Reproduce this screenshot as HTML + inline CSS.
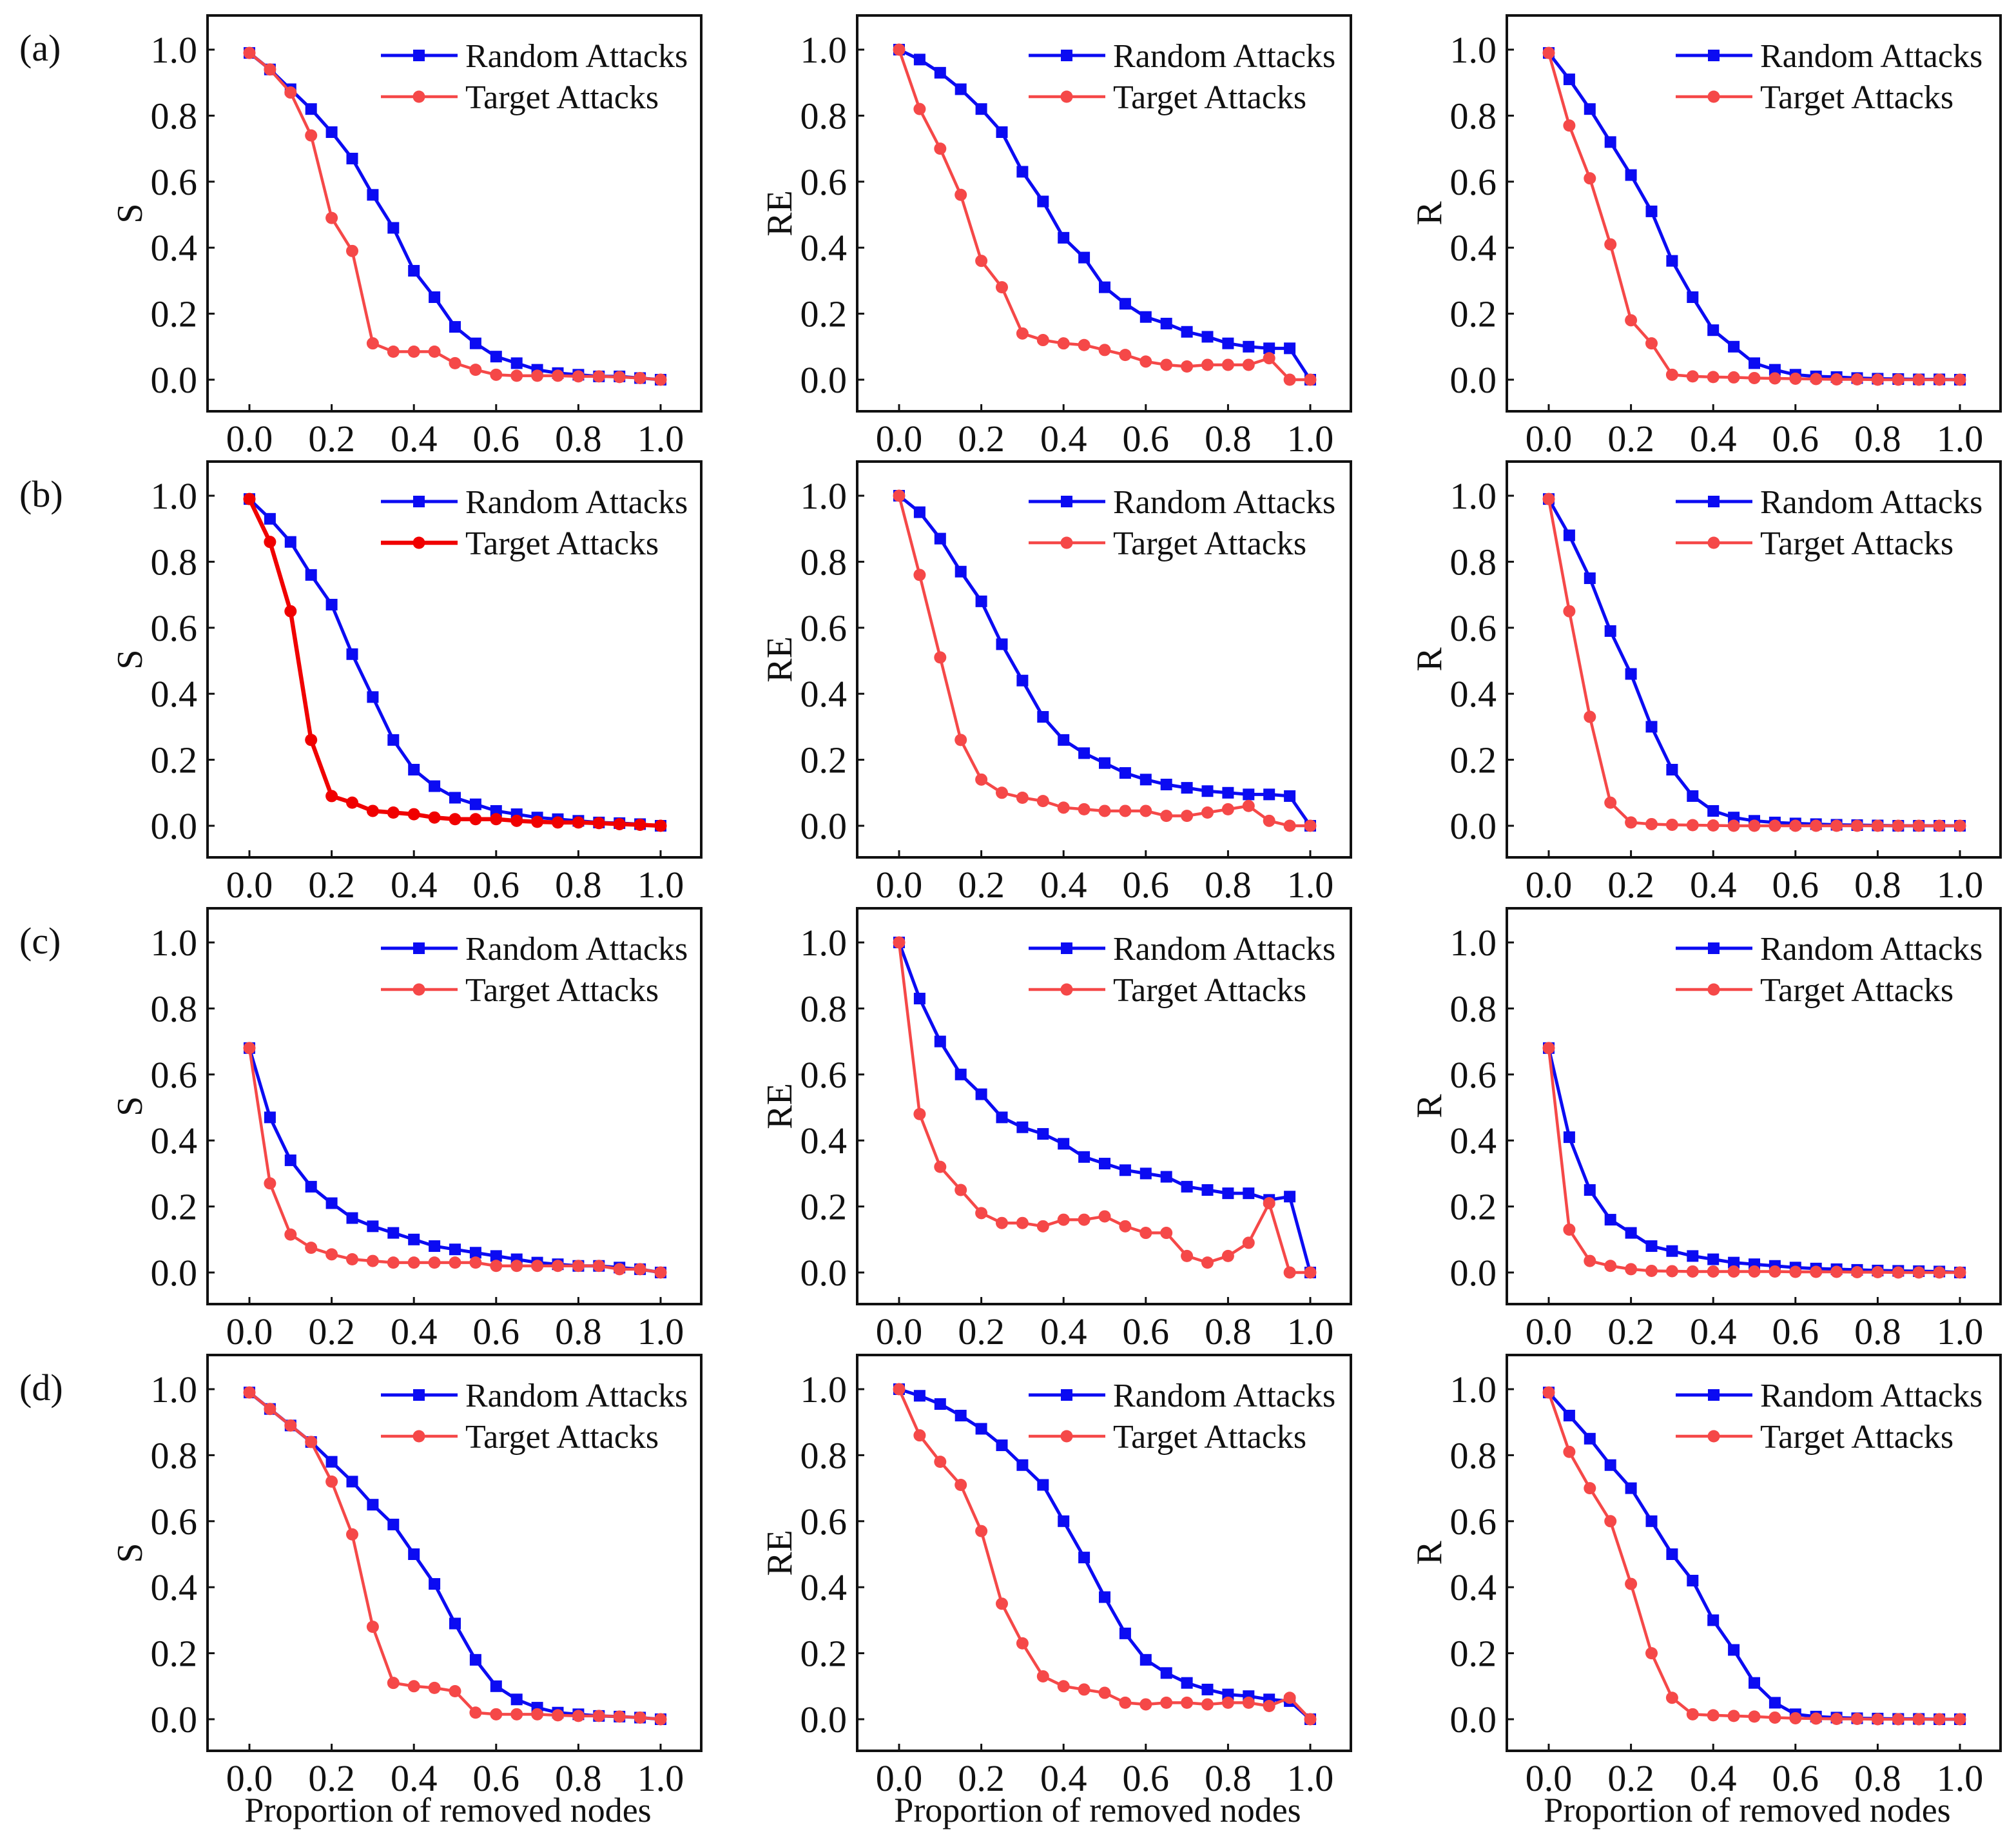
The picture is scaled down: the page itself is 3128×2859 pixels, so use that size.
<!DOCTYPE html>
<html><head><meta charset="utf-8"><style>
html,body{margin:0;padding:0;background:#fff;}
svg{display:block;}
text{font-family:"Liberation Serif","DejaVu Serif",serif;fill:#111;}
</style></head><body>
<svg id="fig" width="3128" height="2859" viewBox="0 0 3128 2859" xmlns="http://www.w3.org/2000/svg"></svg>
<script>
const xValues=[0,0.05,0.1,0.15,0.2,0.25,0.3,0.35,0.4,0.45,0.5,0.55,0.6,0.65,0.7,0.75,0.8,0.85,0.9,0.95,1.0];
const xTicks=[0,0.2,0.4,0.6,0.8,1.0];
const yTicks=[0,0.2,0.4,0.6,0.8,1.0];
const rowLabels=["(a)","(b)","(c)","(d)"];
const colYLabels=["S","RE","R"];
const legendLabels=["Random Attacks","Target Attacks"];
const randomA1=[0.99,0.94,0.88,0.82,0.75,0.67,0.56,0.46,0.33,0.25,0.16,0.11,0.07,0.05,0.03,0.02,0.015,0.01,0.01,0.005,0];
const targetA1=[0.99,0.94,0.87,0.74,0.49,0.39,0.11,0.085,0.085,0.085,0.05,0.03,0.015,0.012,0.012,0.012,0.01,0.01,0.008,0.005,0];
const randomA2=[1.0,0.97,0.93,0.88,0.82,0.75,0.63,0.54,0.43,0.37,0.28,0.23,0.19,0.17,0.145,0.13,0.11,0.10,0.095,0.095,0];
const targetA2=[1.0,0.82,0.70,0.56,0.36,0.28,0.14,0.12,0.11,0.105,0.09,0.075,0.055,0.045,0.04,0.045,0.045,0.045,0.065,0.0,0.0];
const randomA3=[0.99,0.91,0.82,0.72,0.62,0.51,0.36,0.25,0.15,0.10,0.05,0.03,0.015,0.01,0.008,0.005,0.003,0.002,0.001,0.001,0];
const targetA3=[0.99,0.77,0.61,0.41,0.18,0.11,0.015,0.01,0.008,0.007,0.005,0.004,0.003,0.002,0.001,0.001,0,0,0,0,0];
const randomB1=[0.99,0.93,0.86,0.76,0.67,0.52,0.39,0.26,0.17,0.12,0.085,0.065,0.045,0.035,0.025,0.02,0.015,0.01,0.008,0.005,0];
const targetB1=[0.99,0.86,0.65,0.26,0.09,0.07,0.045,0.04,0.035,0.025,0.02,0.02,0.02,0.015,0.012,0.01,0.01,0.008,0.005,0.003,0];
const randomB2=[1.0,0.95,0.87,0.77,0.68,0.55,0.44,0.33,0.26,0.22,0.19,0.16,0.14,0.125,0.115,0.105,0.10,0.095,0.095,0.09,0];
const targetB2=[1.0,0.76,0.51,0.26,0.14,0.10,0.085,0.075,0.055,0.05,0.045,0.045,0.045,0.03,0.03,0.04,0.05,0.06,0.015,0.0,0.0];
const randomB3=[0.99,0.88,0.75,0.59,0.46,0.30,0.17,0.09,0.045,0.025,0.015,0.01,0.007,0.005,0.003,0.002,0.001,0,0,0,0];
const targetB3=[0.99,0.65,0.33,0.07,0.01,0.005,0.003,0.002,0.001,0,0,0,0,0,0,0,0,0,0,0,0];
const randomC1=[0.68,0.47,0.34,0.26,0.21,0.165,0.14,0.12,0.10,0.08,0.07,0.06,0.05,0.04,0.03,0.025,0.02,0.02,0.015,0.01,0];
const targetC1=[0.68,0.27,0.115,0.075,0.055,0.04,0.035,0.03,0.03,0.03,0.03,0.03,0.02,0.02,0.02,0.02,0.02,0.02,0.01,0.01,0];
const randomC2=[1.0,0.83,0.70,0.60,0.54,0.47,0.44,0.42,0.39,0.35,0.33,0.31,0.30,0.29,0.26,0.25,0.24,0.24,0.22,0.23,0];
const targetC2=[1.0,0.48,0.32,0.25,0.18,0.15,0.15,0.14,0.16,0.16,0.17,0.14,0.12,0.12,0.05,0.03,0.05,0.09,0.21,0.0,0];
const randomC3=[0.68,0.41,0.25,0.16,0.12,0.08,0.065,0.05,0.04,0.03,0.025,0.02,0.015,0.012,0.01,0.008,0.006,0.005,0.004,0.003,0];
const targetC3=[0.68,0.13,0.035,0.02,0.01,0.005,0.004,0.003,0.003,0.003,0.003,0.003,0.002,0.002,0.002,0.001,0.001,0,0,0,0];
const randomD1=[0.99,0.94,0.89,0.84,0.78,0.72,0.65,0.59,0.50,0.41,0.29,0.18,0.10,0.06,0.035,0.02,0.015,0.01,0.008,0.005,0];
const targetD1=[0.99,0.94,0.89,0.84,0.72,0.56,0.28,0.11,0.10,0.095,0.085,0.02,0.015,0.015,0.015,0.012,0.01,0.01,0.008,0.005,0];
const randomD2=[1.0,0.98,0.955,0.92,0.88,0.83,0.77,0.71,0.60,0.49,0.37,0.26,0.18,0.14,0.11,0.09,0.075,0.07,0.06,0.055,0];
const targetD2=[1.0,0.86,0.78,0.71,0.57,0.35,0.23,0.13,0.10,0.09,0.08,0.05,0.045,0.05,0.05,0.045,0.05,0.05,0.04,0.065,0];
const randomD3=[0.99,0.92,0.85,0.77,0.70,0.60,0.50,0.42,0.30,0.21,0.11,0.05,0.015,0.008,0.005,0.003,0.002,0.001,0.001,0,0];
const targetD3=[0.99,0.81,0.70,0.60,0.41,0.20,0.065,0.015,0.012,0.01,0.008,0.005,0.003,0.002,0.001,0.001,0,0,0,0,0];

const randomSeries=[[randomA1,randomA2,randomA3],[randomB1,randomB2,randomB3],[randomC1,randomC2,randomC3],[randomD1,randomD2,randomD3]];
const targetSeries=[[targetA1,targetA2,targetA3],[targetB1,targetB2,targetB3],[targetC1,targetC2,targetC3],[targetD1,targetD2,targetD3]];

const NS="http://www.w3.org/2000/svg";
const svg=document.getElementById('fig');
function mk(tag,attrs,parent){const e=document.createElementNS(NS,tag);for(const k in attrs)e.setAttribute(k,attrs[k]);(parent||svg).appendChild(e);return e;}
const colLeft=[322,1330,2338], rowTop=[24,716,1409,2102];
const legendOffset=[269,266,262];
const BW=766,BH=614;
const BLUE="#0b0bf2", RED="#f54848";
for(let r=0;r<4;r++){
  const lab=mk('text',{x:30,y:rowTop[r]+70,'font-size':58});
  lab.textContent=rowLabels[r];
  
  
  for(let c=0;c<3;c++){
    const L=colLeft[c],T=rowTop[r];
    const sx=v=>L+65+v*638;
    const sy=v=>T+565-v*512;
    const g=mk('g',{});
    
    
    xTicks.forEach(t=>{
      const tk=mk('line',{x1:sx(t),x2:sx(t),y1:T+BH,y2:T+BH-11,stroke:'#111','stroke-width':3},g);
      
      const tl=mk('text',{x:sx(t),y:T+BH+62,'font-size':58,'text-anchor':'middle'},g);
      tl.textContent=t.toFixed(1);
      
    });
    yTicks.forEach(t=>{
      const tk=mk('line',{x1:L,x2:L+11,y1:sy(t),y2:sy(t),stroke:'#111','stroke-width':3},g);
      
      const tl=mk('text',{x:L-16,y:sy(t)+20,'font-size':58,'text-anchor':'end'},g);
      tl.textContent=t.toFixed(1);
      
    });
    const frame=mk('rect',{x:L,y:T,width:BW,height:BH,fill:'none',stroke:'#111','stroke-width':4},g);
    
    const yl=mk('text',{x:0,y:0,'font-size':56,'text-anchor':'middle',transform:`translate(${L-102},${T+BH/2}) rotate(-90)`},g);
    yl.textContent=colYLabels[c];
    
    const thickRed=(r===1&&c===0);
    const redCol=thickRed?"#f00000":RED;
    const rs=randomSeries[r][c], ts=targetSeries[r][c];
    const lineB=mk('polyline',{points:xValues.map((x,i)=>sx(x)+','+sy(rs[i])).join(' '),fill:'none',stroke:BLUE,'stroke-width':5,'stroke-linejoin':'round'},g);
    
    xValues.forEach((x,i)=>{
      const m=mk('rect',{x:sx(x)-9,y:sy(rs[i])-9,width:18,height:18,fill:BLUE},g);
      
    });
    const lineR=mk('polyline',{points:xValues.map((x,i)=>sx(x)+','+sy(ts[i])).join(' '),fill:'none',stroke:redCol,'stroke-width':thickRed?6.5:4.5,'stroke-linejoin':'round'},g);
    
    xValues.forEach((x,i)=>{
      const m=mk('circle',{cx:sx(x),cy:sy(ts[i]),r:9.5,fill:redCol},g);
      
    });
    const lg=mk('g',{},g);
    
    const ly1=T+62, ly2=T+126, lx=L+legendOffset[c];
    mk('line',{x1:lx,x2:lx+119,y1:ly1,y2:ly1,stroke:BLUE,'stroke-width':5},lg);
    mk('rect',{x:lx+50,y:ly1-9,width:18,height:18,fill:BLUE},lg);
    const t1=mk('text',{x:lx+131,y:ly1+18,'font-size':52},lg);t1.textContent=legendLabels[0];
    
    mk('line',{x1:lx,x2:lx+119,y1:ly2,y2:ly2,stroke:redCol,'stroke-width':thickRed?6.5:4.5},lg);
    mk('circle',{cx:lx+59,cy:ly2,r:9.5,fill:redCol},lg);
    const t2=mk('text',{x:lx+131,y:ly2+18,'font-size':52},lg);t2.textContent=legendLabels[1];
    
    if(r===3){
      const xt=mk('text',{x:L+BW/2-10,y:2826,'font-size':54,'text-anchor':'middle'},g);
      xt.textContent="Proportion of removed nodes";
      
    }
  }
}
</script>
</body></html>
